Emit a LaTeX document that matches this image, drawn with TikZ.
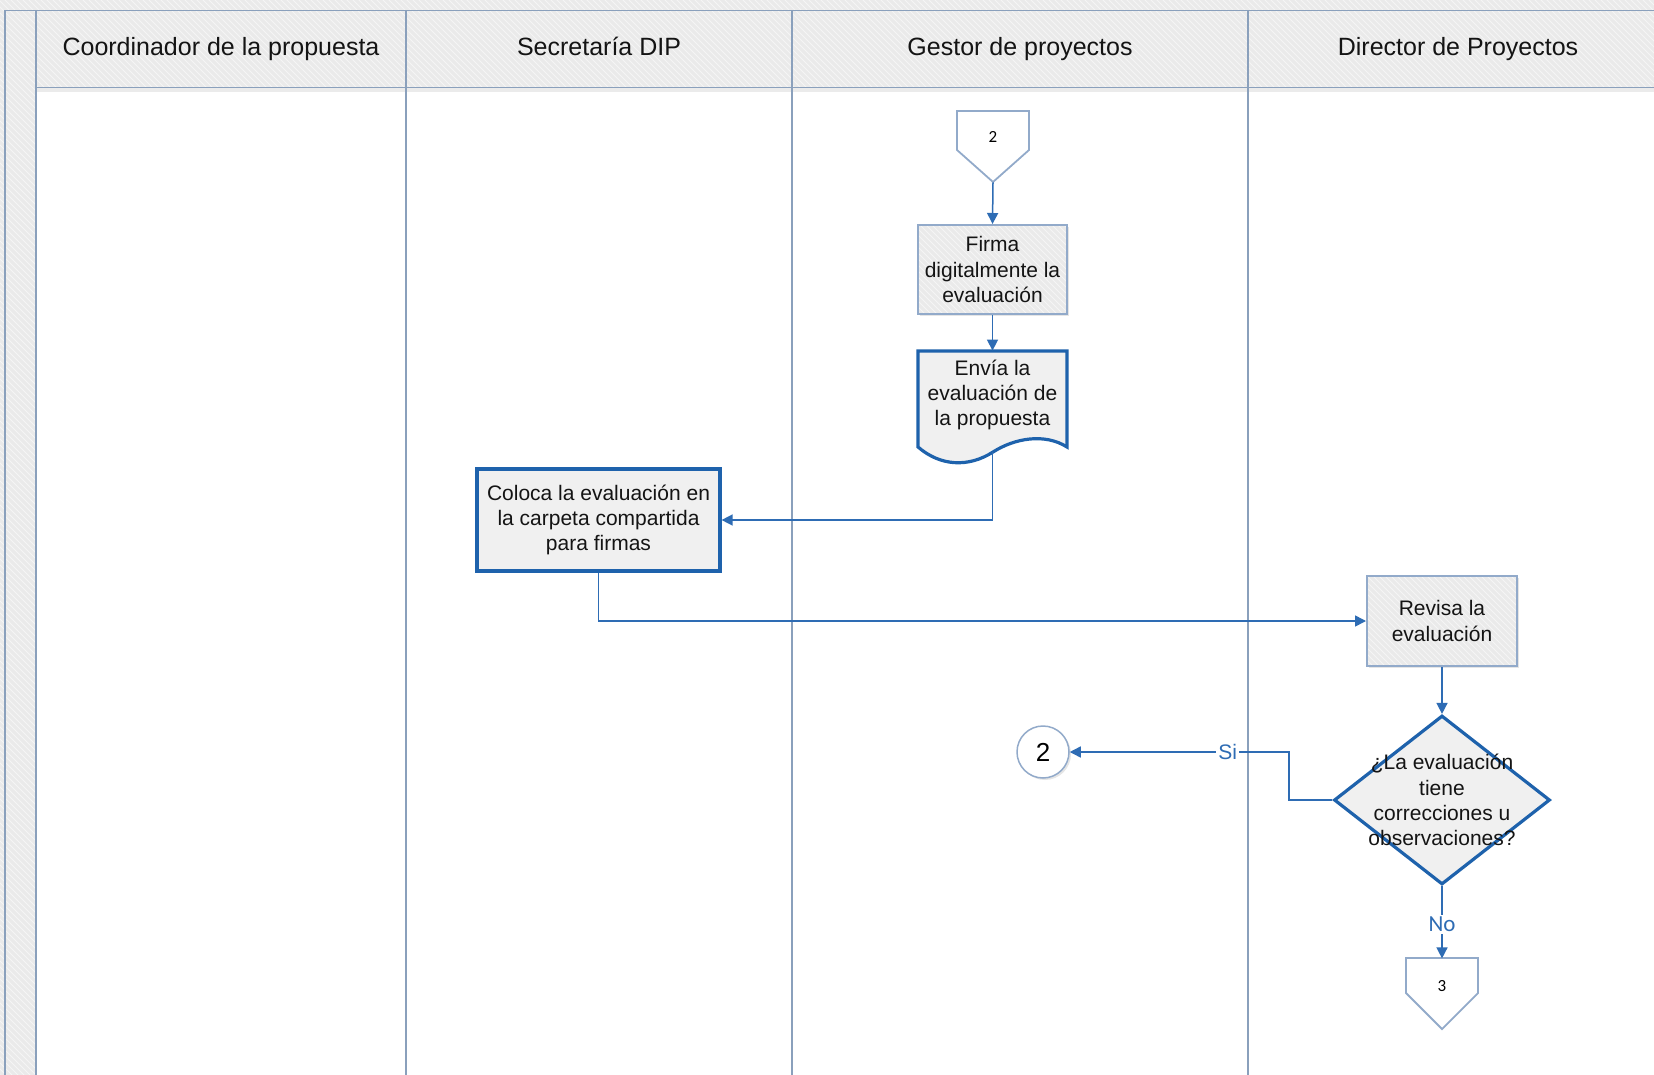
\documentclass[tikz,border=0pt]{standalone}
\usepackage{fontspec}
\setmainfont{Liberation Sans}
\newfontfamily\calibri{Carlito}
\usetikzlibrary{shapes.geometric,arrows.meta,patterns,shadows,positioning}

\definecolor{laneblue}{RGB}{138,160,188}
\definecolor{flowblue}{RGB}{46,108,180}
\definecolor{boxblue}{RGB}{30,98,172}
\definecolor{greyline}{RGB}{146,170,202}
\definecolor{headfill}{RGB}{234,234,234}
\definecolor{headstripe}{RGB}{245,245,245}
\definecolor{boxfill}{RGB}{240,240,240}
\definecolor{txt}{RGB}{20,20,20}
\newcommand\boxfont{\fontsize{10.5}{12.6}\selectfont}

\begin{document}
\begin{tikzpicture}[x=0.5pt,y=-0.5pt,
  hatched/.style={preaction={fill=headfill},preaction={pattern=north west lines,pattern color=headstripe}},
  lanehead/.style={hatched,draw=laneblue,line width=0.75pt,minimum height=38.5pt,
    text height=9pt,text depth=2.6pt,font=\fontsize{12.5}{15}\selectfont,text=txt},
  laneline/.style={draw=laneblue,line width=0.75pt},
  greytask/.style={drop shadow={opacity=0.2,shadow xshift=1pt,shadow yshift=-1pt},
    hatched,draw=greyline,line width=1pt,
    align=center,font=\boxfont,text=txt},
  bluetask/.style={draw=boxblue,line width=1.6pt,fill=boxfill,
    drop shadow={opacity=0.2,shadow xshift=1pt,shadow yshift=-1pt},
    align=center,font=\boxfont,text=txt},
  decision/.style={diamond,draw=boxblue,line width=1.6pt,fill=boxfill,
    minimum width=108pt,minimum height=84.5pt},
  pagecon/.style={draw=greyline,line width=0.9pt,fill=white},
  flow/.style={draw=flowblue,line width=0.75pt,-{Triangle[length=5.5pt,width=5.5pt]}},
  flowlabel/.style={fill=white,text=flowblue,inner sep=1pt}]
\tikzstyle{every node}+=[inner sep=0pt]
\useasboundingbox (0,0) rectangle (1654,1075);

% background and lanes
\fill[headfill,postaction={pattern=north west lines,pattern color=headstripe}] (0,0) rectangle (1654,1075);
\fill[white] (36,87.5) rectangle (1654,1075);
\node[lanehead,minimum width=185pt] (hcoord) at (221,49) {Coordinador de la propuesta};
\node[lanehead,minimum width=193pt] (hsecre) at (599,49) {Secretaría DIP};
\node[lanehead,minimum width=228pt] (hgestor) at (1020,49) {Gestor de proyectos};
\node[lanehead,minimum width=210pt] (hdirec) at (1458,49) {Director de Proyectos};
\fill[black,opacity=0.08] (36,88.5) rectangle (1654,92);
\draw[laneline] (5,10.5) -- (1654,10.5);
\draw[laneline] (5,10.5) -- (5,1075);
\draw[laneline] (36,10.5) -- (36,1075);
\draw[laneline] (406,10.5) -- (406,1075);
\draw[laneline] (792,10.5) -- (792,1075);
\draw[laneline] (1248,10.5) -- (1248,1075);

% shapes
\draw[pagecon] (957,111) -- (1029,111) -- (1029,150) -- (993,182) -- (957,150) -- cycle;
\node[minimum width=35.5pt,minimum height=35.5pt,font=\calibri\fontsize{8.5}{10}\selectfont] (con2) at (993,146.5) {\raisebox{9.3pt}{2}};
\node[greytask,minimum width=74.5pt,minimum height=44.5pt] (firma) at (992.5,269.5) {Firma\\digitalmente la\\evaluación};
\draw[draw=boxblue,line width=1.6pt,fill=boxfill] (918,351) -- (1067,351) -- (1067,447)
  .. controls (1045,433) and (1015,438) .. (993,452)
  .. controls (968,468) and (940,466) .. (918,447) -- cycle;
\node[align=center,font=\boxfont,text=txt,minimum width=74.5pt,minimum height=44pt] (envia) at (992.5,395) {Envía la\\evaluación de\\la propuesta};
\coordinate (enviaout) at (992.5,452);
\node[bluetask,minimum width=121.5pt,minimum height=51pt] (coloca) at (598.5,520) {Coloca la evaluación en\\la carpeta compartida\\para firmas};
\node[greytask,minimum width=75pt,minimum height=45pt] (revisa) at (1442,621) {Revisa la\\evaluación};
\node[decision] (dec) at (1442,800) {};
\node[align=center,font=\boxfont,text=txt] (dectext) at (dec.center) {¿La evaluación\\tiene\\correcciones u\\observaciones?};
\node[circle,draw=greyline,line width=0.75pt,fill=white,minimum size=26pt,
  drop shadow={opacity=0.2,shadow xshift=1pt,shadow yshift=-1pt},
  font=\fontsize{13}{15}\selectfont] (circ2) at (1043,752) {2};
\draw[pagecon] (1406,958) -- (1478,958) -- (1478,993) -- (1442,1029) -- (1406,993) -- cycle;
\node[minimum width=35.5pt,minimum height=35.5pt,font=\calibri\fontsize{8.5}{10}\selectfont] (con3) at (1442,993.5) {\raisebox{8pt}{3}};
\coordinate (sibend) at (1289,800);

% connectors
\draw[flow] (con2.south) -- (firma.north);
\draw[flow] (firma.south) -- (envia.north);
\draw[flow] (enviaout) |- (coloca.east);
\draw[flow] (coloca.south) |- (revisa.west);
\draw[flow] (revisa.south) -- (dec.north);
\draw[flow] (dec.west) -- (sibend) |- node[flowlabel,pos=0.64,font=\fontsize{10.5}{12}\selectfont] {Si} (circ2.east);
\draw[flow] (dec.south) -- node[flowlabel,pos=0.53,font=\calibri\fontsize{11.5}{13}\selectfont] {No} ([yshift=-0.4pt]con3.north);
\end{tikzpicture}
\end{document}
